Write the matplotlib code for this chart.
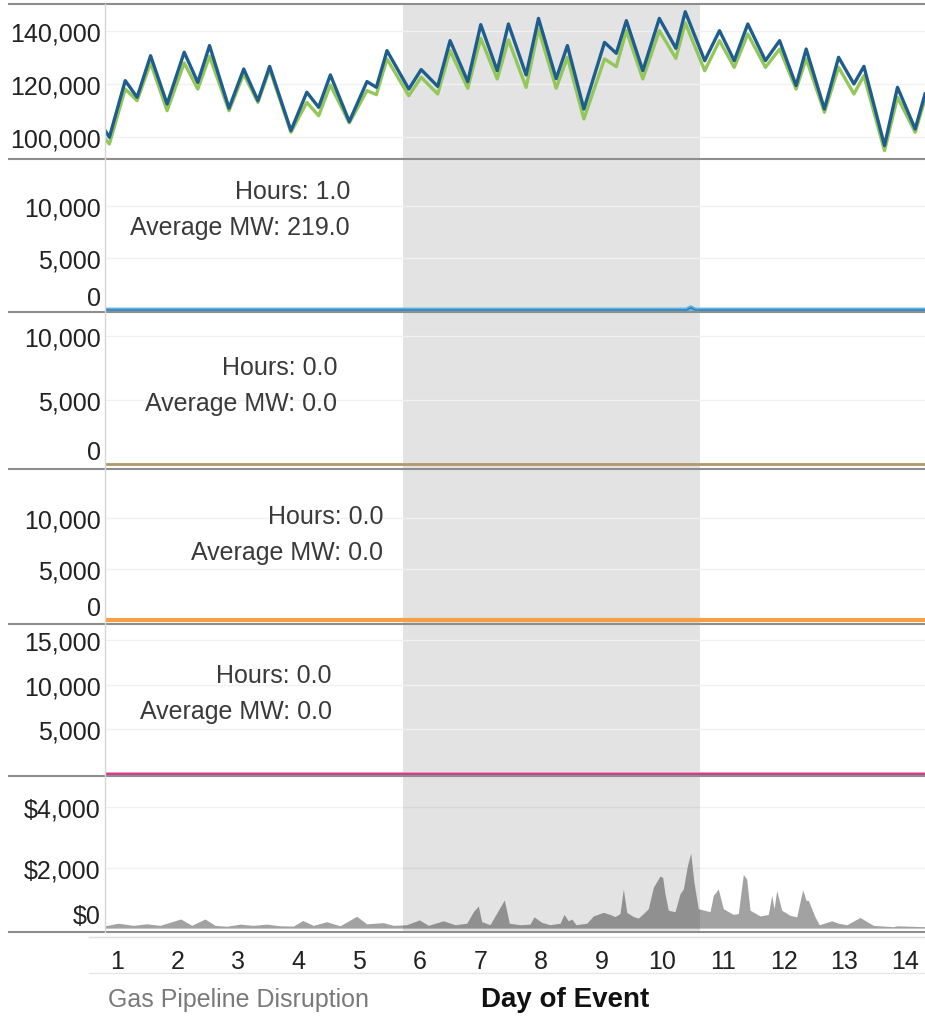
import matplotlib
matplotlib.use("Agg")
import matplotlib.pyplot as plt
from matplotlib.lines import Line2D

plt.rcParams["font.family"] = ["Liberation Sans", "DejaVu Sans"]

# ---- data ----
load_day = [0.805, 0.874, 1.136, 1.331, 1.554, 1.827, 2.109, 2.333, 2.527, 2.848,
            3.091, 3.325, 3.519, 3.870, 4.132, 4.327, 4.521, 4.833, 5.125, 5.280,
            5.455, 5.815, 6.019, 6.292, 6.496, 6.788, 7.002, 7.274, 7.459, 7.751,
            7.955, 8.247, 8.432, 8.704, 9.045, 9.239, 9.405, 9.677, 9.949, 10.222,
            10.377, 10.698, 10.942, 11.185, 11.409, 11.700, 11.934, 12.206, 12.372, 12.673,
            12.907, 13.160, 13.325, 13.665, 13.879, 14.171, 14.333]
load_actual = [102500, 100000, 121250, 115000, 130600, 112500, 131900, 120600, 134400, 110900,
               125600, 113750, 126600, 102500, 116900, 111250, 123400, 105900, 120900, 118750,
               132500, 118100, 125400, 119100, 136250, 120900, 142250, 125000, 142500, 123400,
               144600, 122000, 134400, 110600, 135600, 131500, 143750, 125000, 144600, 133400,
               147100, 128750, 140000, 128750, 142500, 128750, 136250, 119400, 133100, 110600,
               130000, 120000, 126600, 96900, 118750, 103100, 116250]
load_forecast = [99400, 97500, 118100, 113750, 127900, 110000, 127900, 118100, 130400, 110000,
                 123750, 113100, 125600, 101900, 113100, 108100, 119600, 105400, 117500, 116000,
                 129400, 115600, 122500, 116250, 132500, 118400, 137100, 121900, 136500, 118750,
                 140600, 118400, 130000, 106900, 129400, 126500, 140000, 121900, 140000, 129600,
                 142900, 125000, 136250, 126250, 138750, 126250, 133100, 118100, 129400, 109400,
                 126250, 116250, 123100, 95000, 115000, 101900, 114400]

mw_day = [0.802, 10.40, 10.467, 10.54, 14.333]
mw_series1 = [0, 0, 219, 0, 0]
flat_day = [0.802, 14.333]
mw_series2 = [0, 0]
mw_series3 = [0, 0]
mw_series4 = [0, 0]

annotations = [("Hours: 1.0", "Average MW: 219.0"),
               ("Hours: 0.0", "Average MW: 0.0"),
               ("Hours: 0.0", "Average MW: 0.0"),
               ("Hours: 0.0", "Average MW: 0.0")]

price_day = [0.802, 1.021, 1.269, 1.490, 1.710, 2.051, 2.233, 2.452, 2.617, 2.810,
             3.030, 3.249, 3.470, 3.690, 3.909, 4.064, 4.239, 4.460, 4.680, 4.955,
             5.120, 5.394, 5.559, 5.780, 5.988, 6.137, 6.384, 6.578, 6.771, 6.880,
             6.962, 7.018, 7.155, 7.391, 7.474, 7.650, 7.815, 7.881, 8.008, 8.145,
             8.310, 8.376, 8.447, 8.503, 8.574, 8.751, 8.860, 9.025, 9.135, 9.218,
             9.300, 9.355, 9.411, 9.520, 9.602, 9.685, 9.767, 9.850, 9.960, 10.005,
             10.043, 10.097, 10.208, 10.290, 10.345, 10.411, 10.467, 10.521, 10.592, 10.785,
             10.840, 10.922, 11.005, 11.170, 11.252, 11.335, 11.391, 11.446, 11.611, 11.747,
             11.804, 11.842, 11.886, 11.969, 12.106, 12.216, 12.315, 12.370, 12.408, 12.518,
             12.589, 12.794, 12.903, 13.041, 13.261, 13.480, 13.810, 13.866, 14.333]
price = [75, 160, 90, 140, 90, 300, 90, 300, 90, 60,
         130, 90, 130, 75, 65, 250, 90, 210, 75, 390,
         140, 180, 90, 110, 270, 90, 240, 110, 160, 540,
         730, 215, 110, 930, 160, 110, 130, 370, 190, 110,
         160, 450, 240, 300, 110, 160, 400, 520, 450, 380,
         480, 1290, 520, 380, 330, 480, 640, 1345, 1720, 1670,
         1130, 590, 540, 1130, 1290, 2045, 2475, 1500, 640, 540,
         1080, 1290, 640, 450, 480, 1775, 1615, 590, 400, 450,
         1080, 640, 1240, 590, 420, 370, 1270, 915, 915, 370,
         110, 240, 160, 110, 350, 90, 45, 75, 45]

event_start, event_end = 5.72, 10.62
day_ticks = list(range(1, 15))

# ---- layout (pixels of a 925x1020 canvas) ----
W, H = 925, 1020
L, R = 105, 925
XMIN, XMAX = 0.802, 14.333
panels = [(5, 160), (160, 313), (313, 470), (470, 625), (625, 777), (777, 933)]
ylims = [(91860, 150000), (-190, 14500), (-390, 11875), (-390, 14800),
         (-225, 16850), (-130, 5025)]
yticks = [[100000, 120000, 140000], [0, 5000, 10000], [0, 5000, 10000],
          [0, 5000, 10000], [5000, 10000, 15000], [0, 2000, 4000]]

fig = plt.figure(figsize=(W / 100, H / 100), dpi=100)

axes = []
for i, (top, bot) in enumerate(panels):
    ax = fig.add_axes([L / W, 1 - bot / H, (R - L) / W, (bot - top) / H])
    ax.set_xlim(XMIN, XMAX)
    ax.set_ylim(*ylims[i])
    for s in ax.spines.values():
        s.set_visible(False)
    ax.set_yticks(yticks[i])
    if i == 5:
        ax.set_yticklabels([f"${v:,.0f}" for v in yticks[i]])
    else:
        ax.set_yticklabels([f"{v:,.0f}" for v in yticks[i]])
    ax.tick_params(axis="y", length=0, pad=3, labelsize=18, labelcolor="#222222")
    ax.grid(axis="y", color="#f1f1f1", lw=1, zorder=0)
    ax.set_facecolor("none")
    if yticks[i][0] == 0:
        ax.yaxis.get_major_ticks()[0].label1.set_verticalalignment("bottom")
    if i < 5:
        ax.axvspan(event_start, event_end, color="#e3e3e3", lw=0, zorder=0.5)
        ax.set_xticks([])
    axes.append(ax)

# panel 1: load
a = axes[0]
a.plot(load_day, load_forecast, color="#93c75a", lw=2.4, zorder=3, solid_joinstyle="round")
a.plot(load_day, load_actual, color="#1f5e8c", lw=2.4, zorder=4, solid_joinstyle="round")

# panels 2-5: MW lines
a = axes[1]
a.plot(mw_day, mw_series1, color="#5ab6e6", lw=3.5, zorder=3)
a.plot(mw_day, mw_series1, color="#2c7db5", lw=1.0, zorder=4)
axes[2].plot(flat_day, mw_series2, color="#b09a6a", lw=2.0, zorder=3)
axes[3].plot(flat_day, mw_series3, color="#f4a043", lw=3.0, zorder=3)
axes[4].plot(flat_day, mw_series4, color="#f08cc4", lw=3.5, zorder=3)
axes[4].plot(flat_day, mw_series4, color="#c8307f", lw=1.2, zorder=4)

# panel 6: price area
a = axes[5]
a.fill_between(price_day, 0, price, color="#a2a2a2", lw=0, zorder=2)
a.axvspan(event_start, event_end, color="black", alpha=0.11, lw=0, zorder=2.5)
a.set_xticks(day_ticks)
a.set_xticklabels([str(d) for d in day_ticks])
a.tick_params(axis="x", length=0, pad=12, labelsize=18, labelcolor="#222222")

# annotations (right edge x, first line y, in pixels)
ann_pos = [(350, 192), (337, 368), (383, 517), (332, 676)]
for (t1, t2), (xr, yc) in zip(annotations, ann_pos):
    fig.text(xr / W, 1 - yc / H, t1, ha="right", va="center", fontsize=18, color="#3a3a3a")
    fig.text(xr / W, 1 - (yc + 36) / H, t2, ha="right", va="center", fontsize=18, color="#3a3a3a")


def hline(y, x0, x1, color, lw):
    fig.add_artist(Line2D([x0 / W, x1 / W], [1 - y / H, 1 - y / H], color=color, lw=lw))


for y, _ in panels:
    hline(y, 9, W, "#8e8e8e", 1.5)
hline(933, 9, W, "#8e8e8e", 1.5)
hline(938, 89, W, "#dedede", 1.0)
hline(974, 89, W, "#e6e6e6", 1.0)
fig.add_artist(Line2D([L / W, L / W], [1 - 5 / H, 1 - 933 / H], color="#d6d6d6", lw=1.0))

fig.text(108 / W, 1 - 1000 / H, "Gas Pipeline Disruption", ha="left", va="center",
         fontsize=18, color="#7a7a7a")
fig.text(565 / W, 1 - 1000 / H, "Day of Event", ha="center", va="center",
         fontsize=20, fontweight="bold", color="#111111")

fig.savefig("out.png", dpi=100)
